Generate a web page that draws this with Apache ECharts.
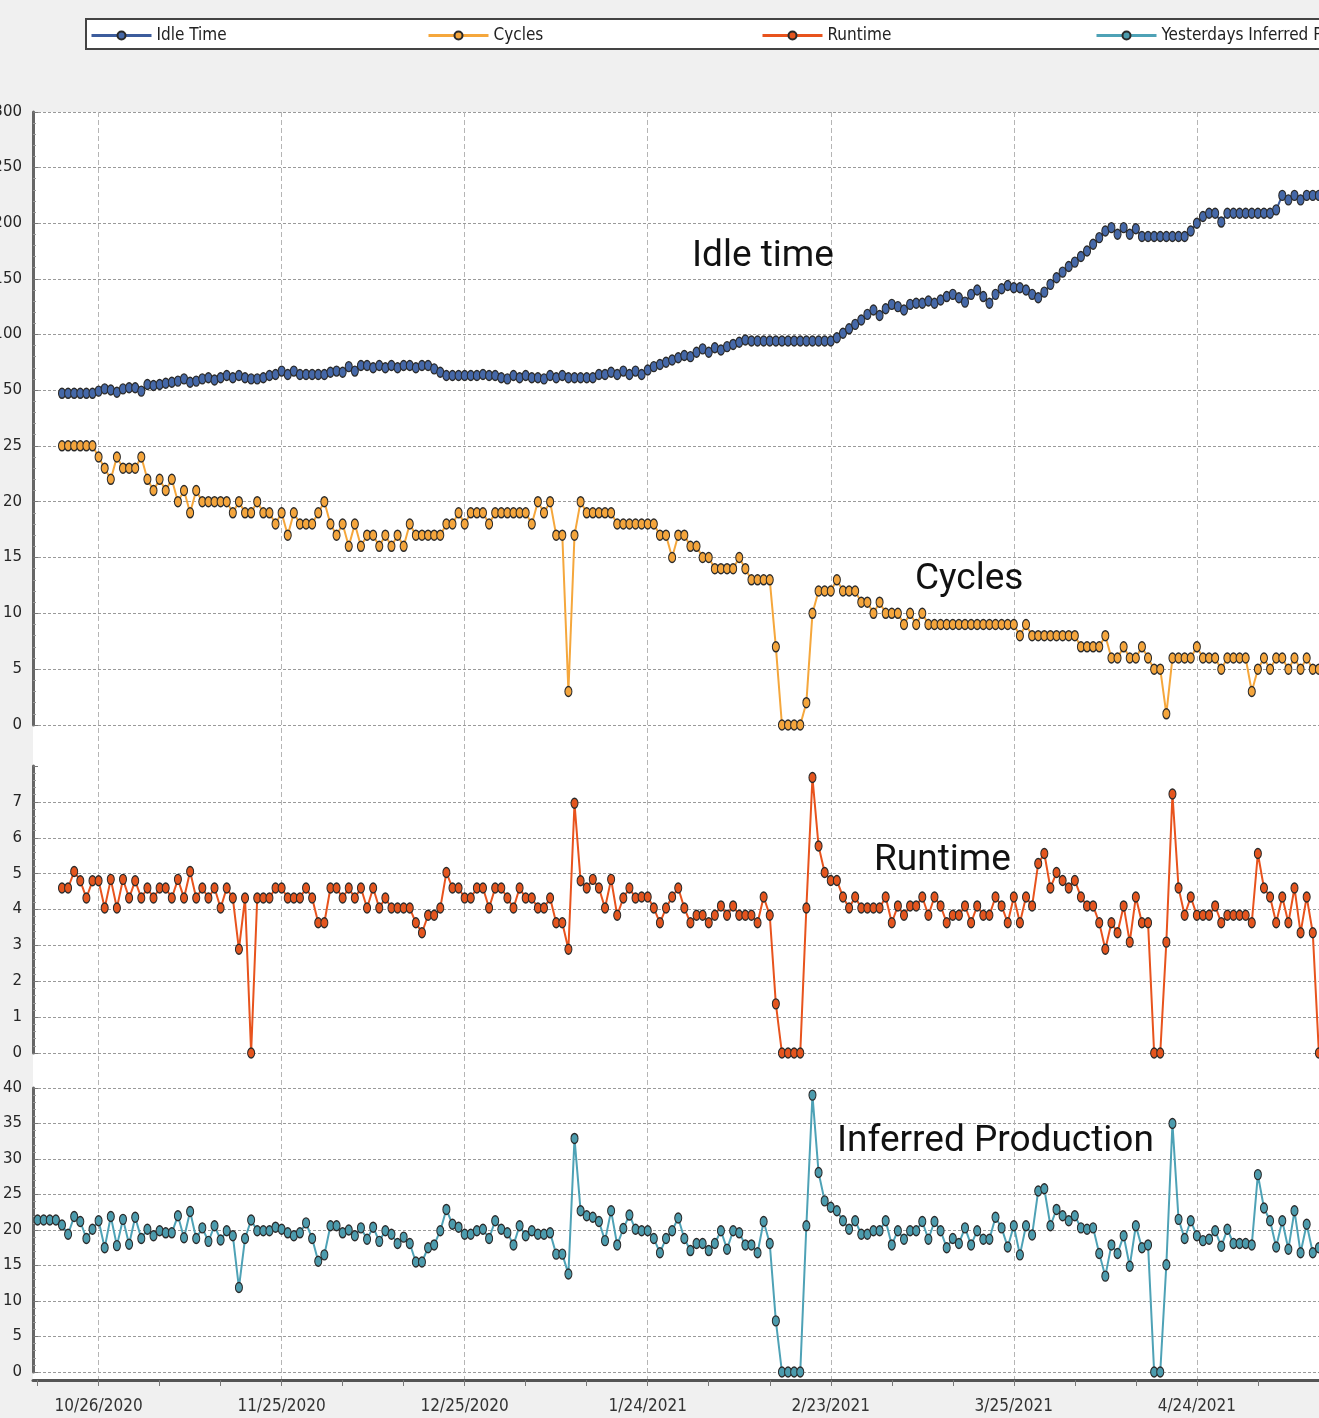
<!DOCTYPE html>
<html><head><meta charset="utf-8">
<script src="https://cdn.jsdelivr.net/npm/echarts@6/dist/echarts.min.js"></script>
<style>
html,body{margin:0;padding:0;background:#f0f0f0;overflow:hidden;width:1319px;height:1418px;}
#chart{position:absolute;left:0;top:0;width:1396px;height:1418px;}
</style></head><body><div id="chart"></div>
<script>
// ---------- data ----------
const seriesStartDate = '2020-10-20';     // first day of Idle / Cycles / Runtime
const inferredStartDate = '2020-10-16';   // first day of Yesterdays Inferred Production

const idleTime = [
 47,47,47,47,47,47,49,51,50,48,
 51,52,52,49,55,54,55,56,57,58,
 60,57,58,60,61,59,61,63,61,63,
 61,60,60,61,63,64,67,64,67,64,
 64,64,64,64,66,67,66,71,67,72,
 72,70,72,70,72,70,72,72,70,72,
 72,69,66,63,63,63,63,63,63,64,
 63,63,61,60,63,61,63,61,61,60,
 63,61,63,61,61,61,61,61,64,64,
 66,64,67,64,67,64,68,71,73,75,
 77,79,81,80,84,87,84,88,86,89,
 91,93,95,94,94,94,94,94,94,94,
 94,94,94,94,94,94,94,97,101,105,
 109,113,118,122,117,123,127,125,122,127,
 128,128,130,128,131,134,136,133,129,136,
 140,134,128,136,141,144,142,142,140,136,
 133,138,145,151,156,161,165,170,175,181,
 187,193,196,190,196,190,195,188,188,188,
 188,188,188,188,188,193,200,206,209,209,
 201,209,209,209,209,209,209,209,209,212,
 225,221,225,221,225,225,225
];
const cycles = [
 25,25,25,25,25,25,24,23,22,24,
 23,23,23,24,22,21,22,21,22,20,
 21,19,21,20,20,20,20,20,19,20,
 19,19,20,19,19,18,19,17,19,18,
 18,18,19,20,18,17,18,16,18,16,
 17,17,16,17,16,17,16,18,17,17,
 17,17,17,18,18,19,18,19,19,19,
 18,19,19,19,19,19,19,18,20,19,
 20,17,17,3,17,20,19,19,19,19,
 19,18,18,18,18,18,18,18,17,17,
 15,17,17,16,16,15,15,14,14,14,
 14,15,14,13,13,13,13,7,0,0,
 0,0,2,10,12,12,12,13,12,12,
 12,11,11,10,11,10,10,10,9,10,
 9,10,9,9,9,9,9,9,9,9,
 9,9,9,9,9,9,9,8,9,8,
 8,8,8,8,8,8,8,7,7,7,
 7,8,6,6,7,6,6,7,6,5,
 5,1,6,6,6,6,7,6,6,6,
 5,6,6,6,6,3,5,6,5,6,
 6,5,6,5,6,5,5
];
const runtime = [
 4.6,4.6,5.06,4.8,4.32,4.8,4.8,4.04,4.84,4.04,
 4.84,4.32,4.8,4.32,4.6,4.32,4.6,4.6,4.32,4.84,
 4.32,5.06,4.32,4.6,4.32,4.6,4.04,4.6,4.32,2.89,
 4.32,0,4.32,4.32,4.32,4.6,4.6,4.32,4.32,4.32,
 4.6,4.32,3.63,3.63,4.6,4.6,4.32,4.6,4.32,4.6,
 4.04,4.6,4.04,4.32,4.04,4.04,4.04,4.04,3.63,3.35,
 3.84,3.84,4.04,5.03,4.6,4.6,4.32,4.32,4.6,4.6,
 4.04,4.6,4.6,4.32,4.04,4.6,4.32,4.32,4.04,4.04,
 4.32,3.63,3.63,2.89,6.96,4.8,4.6,4.84,4.6,4.04,
 4.84,3.84,4.32,4.6,4.32,4.35,4.35,4.04,3.63,4.04,
 4.35,4.6,4.04,3.63,3.84,3.84,3.63,3.84,4.1,3.84,
 4.1,3.84,3.84,3.84,3.63,4.35,3.84,1.37,0,0,
 0,0,4.04,7.68,5.77,5.03,4.81,4.81,4.35,4.04,
 4.35,4.04,4.04,4.04,4.04,4.35,3.63,4.1,3.84,4.1,
 4.1,4.35,3.84,4.35,4.1,3.63,3.84,3.84,4.1,3.63,
 4.1,3.84,3.84,4.35,4.1,3.63,4.35,3.63,4.35,4.1,
 5.28,5.56,4.6,5.03,4.81,4.6,4.81,4.35,4.1,4.1,
 3.63,2.89,3.63,3.35,4.1,3.09,4.35,3.63,3.63,0,
 0,3.09,7.22,4.6,3.84,4.35,3.84,3.84,3.84,4.1,
 3.63,3.84,3.84,3.84,3.84,3.63,5.56,4.6,4.35,3.63,
 4.35,3.63,4.6,3.35,4.35,3.35,0
];
const inferredProduction = [
 21.4,21.4,21.4,21.4,
 20.7,19.4,21.9,21.2,18.8,20.1,21.3,17.5,21.9,17.8,
 21.5,18.0,21.8,18.8,20.1,19.2,19.9,19.6,19.6,22.0,
 18.9,22.6,18.8,20.3,18.4,20.6,18.6,19.9,19.2,11.9,
 18.8,21.4,19.9,19.9,19.9,20.4,20.1,19.6,19.2,19.6,
 21.0,18.8,15.6,16.5,20.6,20.6,19.6,20.0,19.2,20.3,
 18.7,20.4,18.4,19.9,19.4,18.1,19.0,18.1,15.5,15.5,
 17.5,17.9,19.9,22.9,20.8,20.4,19.4,19.4,19.9,20.1,
 18.8,21.3,20.1,19.6,17.9,20.6,19.2,19.9,19.4,19.4,
 19.6,16.6,16.6,13.8,32.9,22.7,22.0,21.8,21.2,18.5,
 22.7,17.9,20.2,22.1,20.1,19.9,19.9,18.8,16.8,18.8,
 19.9,21.7,18.8,17.1,18.1,18.1,17.1,18.1,19.9,17.3,
 19.9,19.6,17.9,17.9,16.8,21.2,18.1,7.2,0,0,
 0,0,20.6,39.0,28.1,24.1,23.2,22.7,21.3,20.1,
 21.3,19.4,19.4,19.9,19.9,21.3,17.9,19.9,18.7,19.9,
 19.9,21.2,18.7,21.2,19.9,17.5,18.8,18.1,20.3,17.9,
 19.9,18.7,18.7,21.8,20.3,17.6,20.6,16.5,20.6,19.3,
 25.5,25.8,20.6,22.9,22.0,21.3,22.0,20.3,20.1,20.3,
 16.7,13.5,17.9,16.7,19.2,14.9,20.6,17.5,17.9,0,
 0,15.1,35.0,21.5,18.8,21.3,19.2,18.5,18.7,19.9,
 17.7,20.1,18.1,18.1,18.1,17.9,27.8,23.1,21.3,17.6,
 21.3,17.3,22.7,16.8,20.8,16.8,17.5
];
const xLabelDates = ['2020-10-26','2020-11-25','2020-12-25','2021-01-24','2021-02-23','2021-03-25','2021-04-24'];
const xMinorTickDates = ['2020-10-16','2020-10-26','2020-11-05','2020-11-15','2020-11-25','2020-12-05','2020-12-15','2020-12-25',
 '2021-01-04','2021-01-14','2021-01-24','2021-02-03','2021-02-13','2021-02-23','2021-03-05','2021-03-15','2021-03-25',
 '2021-04-04','2021-04-14','2021-04-24','2021-05-04','2021-05-14','2021-05-24'];
const seriesNames = ['Idle Time','Cycles','Runtime','Yesterdays Inferred Production'];
const panelLabels = ['Idle time','Cycles','Runtime','Inferred Production'];

// ---------- helpers ----------
const DAY = 86400000;
function ts(s){const p=s.split('-').map(Number);return Date.UTC(p[0],p[1]-1,p[2]);}
function daily(start, arr){const t0=ts(start);return arr.map((v,i)=>[t0+i*DAY,v]);}
function fmtDate(v){const d=new Date(Math.round(v/DAY)*DAY);return (d.getUTCMonth()+1)+'/'+d.getUTCDate()+'/'+d.getUTCFullYear();}
const xMin = ts('2020-10-15') + 6*3600000;
const xMax = ts('2021-05-25');
const NARROW = "'Liberation Sans Narrow','DejaVu Sans Condensed','Arial Narrow',sans-serif";

const L = 33, W = 1353;
function gridBox(top, height){return {left:L, width:W, top, height, outerBoundsMode:'none', containLabel:false};}
const grids = [
  gridBox(112, 1268),   // overlay (vertical grid + date axis)
  gridBox(112, 278),    // idle
  gridBox(390, 335),    // cycles
  gridBox(766, 287),    // runtime
  gridBox(1088, 284)    // inferred
];

function hiddenX(g){return {type:'value', gridIndex:g, min:xMin, max:xMax, show:false, splitLine:{show:false}};}
function yAx(g, min, max, interval, showMax){
  return {type:'value', gridIndex:g, min, max, interval,
    axisLine:{show:true, lineStyle:{color:'#666', width:3}},
    axisTick:{show:true, inside:true, length:5, lineStyle:{color:'#777'}},
    minorTick:{show:true, splitNumber:5, length:3, lineStyle:{color:'#999'}},
    axisLabel:{color:'#262626', fontSize:15, fontFamily:'DejaVu Sans', margin:11, showMaxLabel:showMax},
    splitLine:{show:true, showMaxLine:showMax, lineStyle:{type:[3,2], color:'#9a9a9a', width:1}}
  };
}

const xAxes = [
  {type:'value', gridIndex:0, min:xMin, max:xMax, position:'bottom',
   axisLine:{show:true, lineStyle:{color:'#555', width:3}},
   axisTick:{show:false, customValues:xLabelDates.map(ts)},
   axisLabel:{customValues:xLabelDates.map(ts), formatter:fmtDate, color:'#333', fontSize:17, fontFamily:NARROW, margin:18},
   splitLine:{show:true, lineStyle:{type:[5,3], color:'#b5b5b5', width:1}}
  },
  {type:'value', gridIndex:0, min:xMin, max:xMax, position:'bottom',
   axisLine:{show:false},
   axisTick:{show:true, customValues:xMinorTickDates.map(ts), length:6, lineStyle:{color:'#777'}},
   axisLabel:{show:false}, splitLine:{show:false}
  },
  hiddenX(1), hiddenX(2), hiddenX(3), hiddenX(4)
];
const yAxes = [
  {type:'value', gridIndex:0, show:false, splitLine:{show:false}},
  yAx(1, 50, 300, 50, true),
  yAx(2, 0, 30, 5, false),
  yAx(3, 0, 8, 1, false),
  yAx(4, 0, 40, 5, true)
];

function mkSeries(name, data, xi, yi, line, fill){
  return {name, type:'line', data, xAxisIndex:xi, yAxisIndex:yi,
    showSymbol:true, showAllSymbol:true, symbol:'circle', symbolSize:[7,10], clip:false,
    lineStyle:{color:line, width:2},
    itemStyle:{color:fill, borderColor:'#2a2a2a', borderWidth:1.2},
    emphasis:{disabled:true}};
}
const series = [
  mkSeries(seriesNames[0], daily(seriesStartDate, idleTime), 2, 1, '#3c5c9c', '#4568a8'),
  mkSeries(seriesNames[1], daily(seriesStartDate, cycles), 3, 2, '#f5a73c', '#f4a53c'),
  mkSeries(seriesNames[2], daily(seriesStartDate, runtime), 4, 3, '#e8531d', '#e4551e'),
  mkSeries(seriesNames[3], daily(inferredStartDate, inferredProduction), 5, 4, '#4ea2b6', '#4c9bad')
];

const legendLefts = [90, 427, 761, 1095];
const legends = seriesNames.map((n,i)=>({data:[n], left:legendLefts[i], top:27, padding:0, itemWidth:60, itemHeight:10,
  lineStyle:{width:3},
  textStyle:{fontSize:17, fontFamily:NARROW, color:'#222'}, selectedMode:false}));

const annPos = [[692,257],[915,580],[874,861],[837,1142]];
const graphic = [
  {type:'rect', z:-10, shape:{x:L, y:112, width:1400, height:1268}, style:{fill:'#ffffff'}},
  {type:'rect', z:-5, shape:{x:86, y:19, width:1400, height:30}, style:{fill:'#ffffff', stroke:'#444', lineWidth:2}}
].concat(panelLabels.map((t,i)=>({type:'text', z:100, x:annPos[i][0], y:annPos[i][1],
  style:{text:t, font:'37px Roboto', fill:'#111', verticalAlign:'middle'}})));

const chart = echarts.init(document.getElementById('chart'), null, {renderer:'canvas'});
chart.setOption({
  animation:false,
  backgroundColor:'#f0f0f0',
  grid:grids, xAxis:xAxes, yAxis:yAxes, series, legend:legends, graphic
});
</script></body></html>
